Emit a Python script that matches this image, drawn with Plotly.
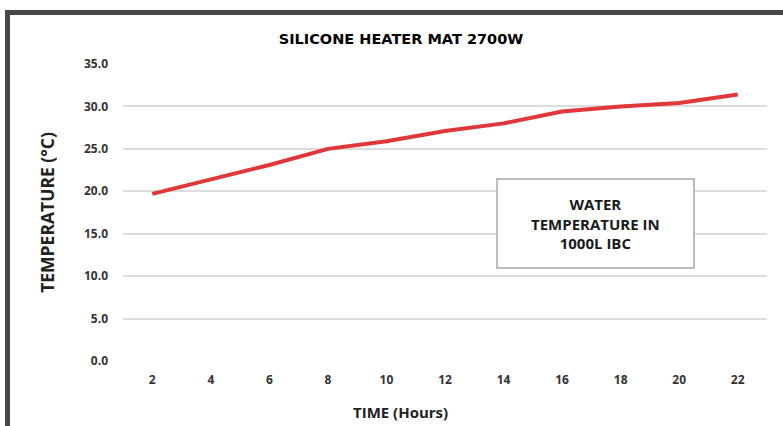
import plotly.graph_objects as go

hours = [2, 4, 6, 8, 10, 12, 14, 16, 18, 20, 22]
temperature = [19.7, 21.4, 23.1, 25.0, 25.9, 27.1, 28.0, 29.4, 30.0, 30.4, 31.4]
y_ticks = [0, 5, 10, 15, 20, 25, 30, 35]
y_tick_labels = [f"<b>{v:.1f}</b>" for v in y_ticks]

title_text = "SILICONE HEATER MAT 2700W"
x_title = "TIME (Hours)"
y_title = "TEMPERATURE (°C)"
box_text = "WATER<br>TEMPERATURE IN<br>1000L IBC"

L, R, T, B = 123, 16, 64, 65
W, H = 783, 426
pw, ph = W - L - R, H - T - B

def px2x(px):
    return (px - L) / pw

def py2y(py):
    return (H - B - py) / ph

fig = go.Figure()
fig.add_trace(go.Scatter(
    x=hours, y=temperature, mode="lines",
    line=dict(color="#e0383a", width=4),
    hoverinfo="x+y", showlegend=False,
))

tick_font = dict(family="Open Sans, Arial, sans-serif", size=12, color="#333333")

fig.update_layout(
    width=W, height=H,
    margin=dict(l=L, r=R, t=T, b=B),
    paper_bgcolor="white", plot_bgcolor="white",
    title=dict(text=f"<b>{title_text}</b>", x=401 / W, xanchor="center", y=1 - 39 / H, yanchor="middle",
               font=dict(family="DejaVu Sans, Verdana, sans-serif", size=14.5, color="#000000")),
    xaxis=dict(
        range=[1, 23], tickvals=hours, ticktext=[f"<b>{h}</b>" for h in hours],
        showgrid=False, zeroline=False, showline=False, ticks="",
        tickfont=tick_font, ticklabelstandoff=10,
    ),
    yaxis=dict(
        range=[0, 35], tickvals=y_ticks, ticktext=y_tick_labels,
        showgrid=True, gridcolor="#dcdcdc", gridwidth=1.5,
        zeroline=False, showline=False, ticks="",
        tickfont=tick_font, ticklabelstandoff=14,
        title=dict(text=f"<b>{y_title}</b>", standoff=24,
                   font=dict(family="Open Sans, Arial, sans-serif", size=17.5, color="#222222")),
    ),
)

# x axis title (positioned as in the reference, left of plot centre)
fig.add_annotation(xref="paper", yref="paper", x=px2x(400), y=py2y(412),
                   xanchor="center", yanchor="middle", showarrow=False,
                   text=f"<b>{x_title}</b>",
                   font=dict(family="Open Sans, Arial, sans-serif", size=15, color="#222222"))

# annotation box
fig.add_shape(type="rect", xref="paper", yref="paper",
              x0=px2x(497), x1=px2x(694), y0=py2y(268), y1=py2y(179),
              line=dict(color="#a6a6a6", width=1.5), fillcolor="white", layer="above")
fig.add_annotation(xref="paper", yref="paper", x=px2x(595.5), y=py2y(223),
                   xanchor="center", yanchor="middle",
                   text=f"<b>{box_text}</b>", showarrow=False, align="center",
                   font=dict(family="Open Sans, Arial, sans-serif", size=15, color="#1a1a1a"))

# outer frame (top and left dark border)
fig.add_shape(type="path", xref="paper", yref="paper",
              path=f"M {px2x(7.5)},{py2y(440)} L {px2x(7.5)},{py2y(12.5)} L {px2x(800)},{py2y(12.5)}",
              line=dict(color="#474747", width=5))

fig.write_html("out.html", config={"displayModeBar": False},
               post_script="document.body.style.margin='0';")
